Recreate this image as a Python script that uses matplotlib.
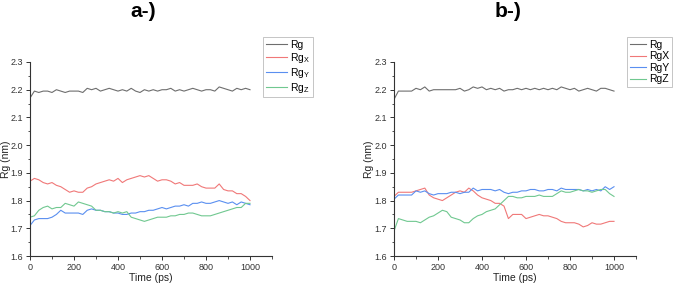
import matplotlib
matplotlib.use("Agg")
import matplotlib.pyplot as plt
from matplotlib.ticker import MultipleLocator, FormatStrFormatter

time = list(range(0, 1001, 20))

# Panel a
rg_a = [2.17, 2.195, 2.19, 2.195, 2.195, 2.19, 2.20, 2.195, 2.19, 2.195,
        2.195, 2.195, 2.19, 2.205, 2.20, 2.205, 2.195, 2.20, 2.205, 2.20,
        2.195, 2.20, 2.195, 2.205, 2.195, 2.19, 2.20, 2.195, 2.20, 2.195,
        2.20, 2.20, 2.205, 2.195, 2.20, 2.195, 2.20, 2.205, 2.20, 2.195,
        2.20, 2.20, 2.195, 2.21, 2.205, 2.20, 2.195, 2.205, 2.20, 2.205, 2.20]
rgx_a = [1.87, 1.88, 1.875, 1.865, 1.86, 1.865, 1.855, 1.85, 1.84, 1.83,
         1.835, 1.83, 1.83, 1.845, 1.85, 1.86, 1.865, 1.87, 1.875, 1.87,
         1.88, 1.865, 1.875, 1.88, 1.885, 1.89, 1.885, 1.89, 1.88, 1.87,
         1.875, 1.875, 1.87, 1.86, 1.865, 1.855, 1.855, 1.855, 1.86, 1.85,
         1.845, 1.845, 1.845, 1.86, 1.84, 1.835, 1.835, 1.825, 1.825, 1.815, 1.80]
rgy_a = [1.71, 1.73, 1.735, 1.735, 1.735, 1.74, 1.75, 1.765, 1.755, 1.755,
         1.755, 1.755, 1.75, 1.765, 1.77, 1.765, 1.765, 1.76, 1.76, 1.755,
         1.755, 1.75, 1.75, 1.755, 1.755, 1.76, 1.76, 1.765, 1.765, 1.77,
         1.775, 1.77, 1.775, 1.78, 1.78, 1.785, 1.78, 1.79, 1.79, 1.795,
         1.79, 1.79, 1.795, 1.80, 1.795, 1.79, 1.795, 1.785, 1.795, 1.79, 1.785]
rgz_a = [1.74, 1.745, 1.765, 1.775, 1.78, 1.77, 1.775, 1.775, 1.79, 1.785,
         1.78, 1.795, 1.79, 1.785, 1.78, 1.765, 1.765, 1.76, 1.76, 1.755,
         1.76, 1.755, 1.76, 1.74, 1.735, 1.73, 1.725, 1.73, 1.735, 1.74,
         1.74, 1.74, 1.745, 1.745, 1.75, 1.75, 1.755, 1.755, 1.75, 1.745,
         1.745, 1.745, 1.75, 1.755, 1.76, 1.765, 1.77, 1.775, 1.775, 1.79, 1.79]

# Panel b
rg_b = [2.165, 2.195, 2.195, 2.195, 2.195, 2.205, 2.20, 2.21, 2.195, 2.20,
        2.20, 2.20, 2.20, 2.20, 2.20, 2.205, 2.195, 2.20, 2.21, 2.205,
        2.21, 2.20, 2.205, 2.20, 2.205, 2.195, 2.20, 2.20, 2.205, 2.20,
        2.205, 2.20, 2.205, 2.20, 2.205, 2.20, 2.205, 2.20, 2.21, 2.205,
        2.20, 2.205, 2.195, 2.20, 2.205, 2.20, 2.195, 2.205, 2.205, 2.20, 2.195]
rgx_b = [1.815, 1.83, 1.83, 1.83, 1.83, 1.835, 1.84, 1.845, 1.82, 1.81,
         1.805, 1.80, 1.81, 1.82, 1.83, 1.835, 1.83, 1.845, 1.835, 1.82,
         1.81, 1.805, 1.80, 1.79, 1.79, 1.78, 1.735, 1.75, 1.75, 1.75,
         1.735, 1.74, 1.745, 1.75, 1.745, 1.745, 1.74, 1.735, 1.725, 1.72,
         1.72, 1.72, 1.715, 1.705, 1.71, 1.72, 1.715, 1.715, 1.72, 1.725, 1.725]
rgy_b = [1.805, 1.82, 1.82, 1.82, 1.82, 1.835, 1.83, 1.835, 1.825, 1.82,
         1.825, 1.825, 1.825, 1.83, 1.83, 1.825, 1.83, 1.83, 1.845, 1.835,
         1.84, 1.84, 1.84, 1.835, 1.84, 1.83, 1.825, 1.83, 1.83, 1.835,
         1.835, 1.84, 1.84, 1.835, 1.835, 1.84, 1.84, 1.835, 1.845, 1.84,
         1.84, 1.84, 1.84, 1.835, 1.84, 1.835, 1.84, 1.835, 1.85, 1.84, 1.85]
rgz_b = [1.69, 1.735, 1.73, 1.725, 1.725, 1.725, 1.72, 1.73, 1.74, 1.745,
         1.755, 1.765, 1.76, 1.74, 1.735, 1.73, 1.72, 1.72, 1.735, 1.745,
         1.75, 1.76, 1.765, 1.77, 1.785, 1.80, 1.815, 1.815, 1.81, 1.81,
         1.815, 1.815, 1.815, 1.82, 1.815, 1.815, 1.815, 1.825, 1.835, 1.83,
         1.83, 1.835, 1.84, 1.835, 1.835, 1.83, 1.835, 1.84, 1.84, 1.825, 1.815]

labels_a = ["Rg", "Rg$_\\mathrm{X}$", "Rg$_\\mathrm{Y}$", "Rg$_\\mathrm{Z}$"]
labels_b = ["Rg", "RgX", "RgY", "RgZ"]
colors = ["#6e6e6e", "#f07878", "#5a8ff0", "#70c890"]

plt.rcParams['font.family'] = ['Liberation Sans', 'DejaVu Sans']
plt.rcParams['mathtext.fontset'] = 'custom'
plt.rcParams['mathtext.rm'] = 'Liberation Sans'
plt.rcParams['mathtext.it'] = 'Liberation Sans:italic'
plt.rcParams['mathtext.bf'] = 'Liberation Sans:bold'

fig = plt.figure(figsize=(6.76, 2.87), dpi=100)


def make_panel(left, series, labels, title, title_x, leg_box, ylab_x, lspacing, hlen):
    ax = fig.add_axes([left, 0.108, 0.358, 0.676])
    for s, lab, c in zip(series, labels, colors):
        ax.plot(time, s, color=c, lw=0.8, label=lab)
    ax.set_xlim(0, 1100)
    ax.set_ylim(1.6, 2.3)
    ax.xaxis.set_minor_locator(MultipleLocator(100))
    ax.yaxis.set_major_locator(MultipleLocator(0.1))
    ax.yaxis.set_minor_locator(MultipleLocator(0.05))
    ax.set_xticks([0, 200, 400, 600, 800, 1000])
    ax.spines['top'].set_visible(False)
    ax.spines['right'].set_visible(False)
    for sp in ('left', 'bottom'):
        ax.spines[sp].set_linewidth(0.8)
        ax.spines[sp].set_color('#333333')
    ax.tick_params(which='major', direction='out', length=3, width=0.7, labelsize=6.5,
                   colors='#333333', pad=2)
    ax.tick_params(which='minor', direction='out', length=1.8, width=0.6, colors='#333333')
    ax.yaxis.set_major_formatter(FormatStrFormatter('%.1f'))
    ax.set_xlabel("Time (ps)", fontsize=7.5, labelpad=1, color='#222222')
    ax.set_ylabel("Rg (nm)", fontsize=7.5, color='#222222')
    ax.yaxis.set_label_coords(ylab_x, 0.5)
    leg = ax.legend(loc='upper left', bbox_to_anchor=leg_box, bbox_transform=fig.transFigure,
                    fontsize=7.5, frameon=True, fancybox=False, edgecolor='#aaaaaa',
                    handlelength=hlen, handletextpad=0.25, borderpad=0.25,
                    labelspacing=lspacing, borderaxespad=0)
    leg.get_frame().set_linewidth(0.6)
    fig.text(title_x, 0.96, title, fontsize=15, fontweight='bold', ha='center', va='center')
    return ax


make_panel(30 / 676, [rg_a, rgx_a, rgy_a, rgz_a], labels_a, "a-)", 143 / 676,
           (263 / 676, 1 - 37 / 287), -19 / 242, 0.1, 2.1)
make_panel(394 / 676, [rg_b, rgx_b, rgy_b, rgz_b], labels_b, "b-)", 508 / 676,
           (627 / 676, 1 - 37 / 287), -20 / 242, 0.15, 1.6)

fig.savefig("out.png", dpi=100)
